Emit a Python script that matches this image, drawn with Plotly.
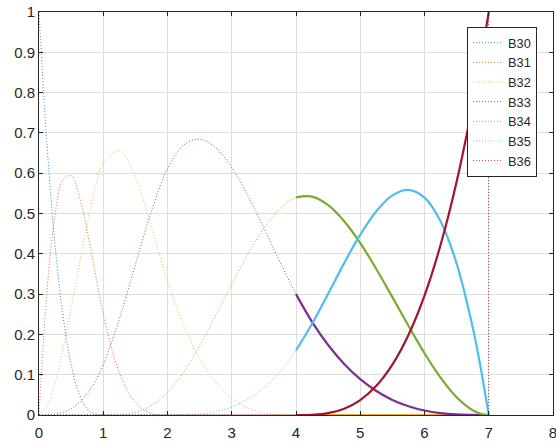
import plotly.graph_objects as go

# Sample positions (parameter u) at which the basis functions were read
x_vals = [0, 0.125, 0.25, 0.375, 0.5, 0.625, 0.75, 0.875, 1, 1.25, 1.5, 1.75, 2,
          2.25, 2.5, 2.75, 3, 3.25, 3.5, 3.75, 4, 4.25, 4.5, 4.75, 5, 5.25, 5.5,
          5.75, 6, 6.25, 6.5, 6.75, 6.875, 7]

b30 = [1, 0.6699, 0.4219, 0.2441, 0.125, 0.0527, 0.0156, 0.0020, 0, 0, 0, 0, 0,
       0, 0, 0, 0, 0, 0, 0, 0, 0, 0, 0, 0, 0, 0, 0, 0, 0, 0, 0, 0, 0]
b31 = [0, 0.3081, 0.4961, 0.5845, 0.5938, 0.5444, 0.4570, 0.3521, 0.25, 0.1055,
       0.0313, 0.0039, 0, 0, 0, 0, 0, 0, 0, 0, 0, 0, 0, 0, 0, 0, 0, 0, 0, 0, 0,
       0, 0, 0]
b32 = [0, 0.0217, 0.0801, 0.1648, 0.2656, 0.3723, 0.4746, 0.5623, 0.625, 0.6556,
       0.5885, 0.4668, 0.3333, 0.2233, 0.1406, 0.0814, 0.0417, 0.0176, 0.0052,
       0.0007, 0, 0, 0, 0, 0, 0, 0, 0, 0, 0, 0, 0, 0, 0]
b33 = [0, 0.0002, 0.0020, 0.0066, 0.0156, 0.0305, 0.0527, 0.0837, 0.125, 0.2381,
       0.3733, 0.5059, 0.6111, 0.6697, 0.6844, 0.6631, 0.6139, 0.5449, 0.4642,
       0.3799, 0.3, 0.2311, 0.1736, 0.1266, 0.0889, 0.0595, 0.0375, 0.0217,
       0.0111, 0.0047, 0.0014, 0.0002, 0.0000, 0]
b34 = [0, 0, 0, 0, 0, 0, 0, 0, 0, 0.0009, 0.0069, 0.0234, 0.0556, 0.1066, 0.1725,
       0.2471, 0.3244, 0.3984, 0.4631, 0.5123, 0.54, 0.5420, 0.5208, 0.4809,
       0.4267, 0.3624, 0.2925, 0.2214, 0.1533, 0.0928, 0.0442, 0.0118, 0.0030, 0]
b35 = [0, 0, 0, 0, 0, 0, 0, 0, 0, 0, 0, 0, 0, 0.0003, 0.0025, 0.0084, 0.02,
       0.0391, 0.0675, 0.1072, 0.16, 0.2264, 0.3009, 0.3769, 0.4474, 0.5057,
       0.545, 0.5585, 0.5393, 0.4806, 0.3757, 0.2178, 0.1168, 0]
b36 = [0, 0, 0, 0, 0, 0, 0, 0, 0, 0, 0, 0, 0, 0, 0, 0, 0, 0, 0, 0, 0, 0.0006,
       0.0046, 0.0156, 0.0370, 0.0723, 0.125, 0.1985, 0.2963, 0.4219, 0.5787,
       0.7703, 0.8801, 1]
# value of B36 exactly at the end of the half-open parameter range (dotted curve)
b36_end_value = 0

names = ["B30", "B31", "B32", "B33", "B34", "B35", "B36"]
series = [b30, b31, b32, b33, b34, b35, b36]
colors = ["#0072BD", "#D95319", "#EDB120", "#7E2F8E", "#77AC30", "#4DBEEE", "#A2142F"]

solid_start = 4  # solid curves drawn on [4, 7]

FONT = "Arial, Liberation Sans, sans-serif"
DOT = "1px,2px"

fig = go.Figure()

# dotted curves over the whole range
for name, ys, c in zip(names, series, colors):
    fig.add_trace(go.Scatter(
        x=x_vals, y=ys, name=name, mode="lines", opacity=0.85,
        line=dict(color=c, width=1, dash=DOT, shape="spline", smoothing=1),
    ))
# drop of the dotted B36 at the right end
fig.add_trace(go.Scatter(
    x=[x_vals[-1], x_vals[-1]], y=[b36[-1], b36_end_value], mode="lines",
    showlegend=False, opacity=0.85, line=dict(color=colors[6], width=1, dash=DOT),
))

# solid curves on the last span
idx = [i for i, v in enumerate(x_vals) if v >= solid_start]
for name, ys, c in zip(names, series, colors):
    fig.add_trace(go.Scatter(
        x=[x_vals[i] for i in idx], y=[ys[i] for i in idx], mode="lines",
        showlegend=False,
        line=dict(color=c, width=2.2, shape="spline", smoothing=1),
    ))

axis_common = dict(
    showgrid=True, gridcolor="#dedede", gridwidth=1,
    showline=True, linecolor="#262626", linewidth=1, mirror="ticks",
    ticks="inside", ticklen=4, tickcolor="#262626",
    zeroline=False, ticklabeloverflow="allow", automargin=False,
    tickfont=dict(family=FONT, size=15, color="#262626"),
)

fig.update_layout(
    width=556, height=445,
    margin=dict(l=39, r=3, t=12, b=30),
    paper_bgcolor="white", plot_bgcolor="white",
    font=dict(family=FONT, size=13, color="#262626"),
    xaxis=dict(range=[0, 8], tickvals=list(range(0, 9)), ticklabelstandoff=4,
               **axis_common),
    yaxis=dict(range=[0, 1], dtick=0.1, ticklabelstandoff=0, **axis_common),
    legend=dict(
        x=0.969, xanchor="right", y=0.963, yanchor="top",
        bgcolor="white", bordercolor="#262626", borderwidth=1,
        font=dict(family=FONT, size=12.8, color="#262626"),
        tracegroupgap=0,
    ),
    showlegend=True,
)

fig.write_html("out.html")
